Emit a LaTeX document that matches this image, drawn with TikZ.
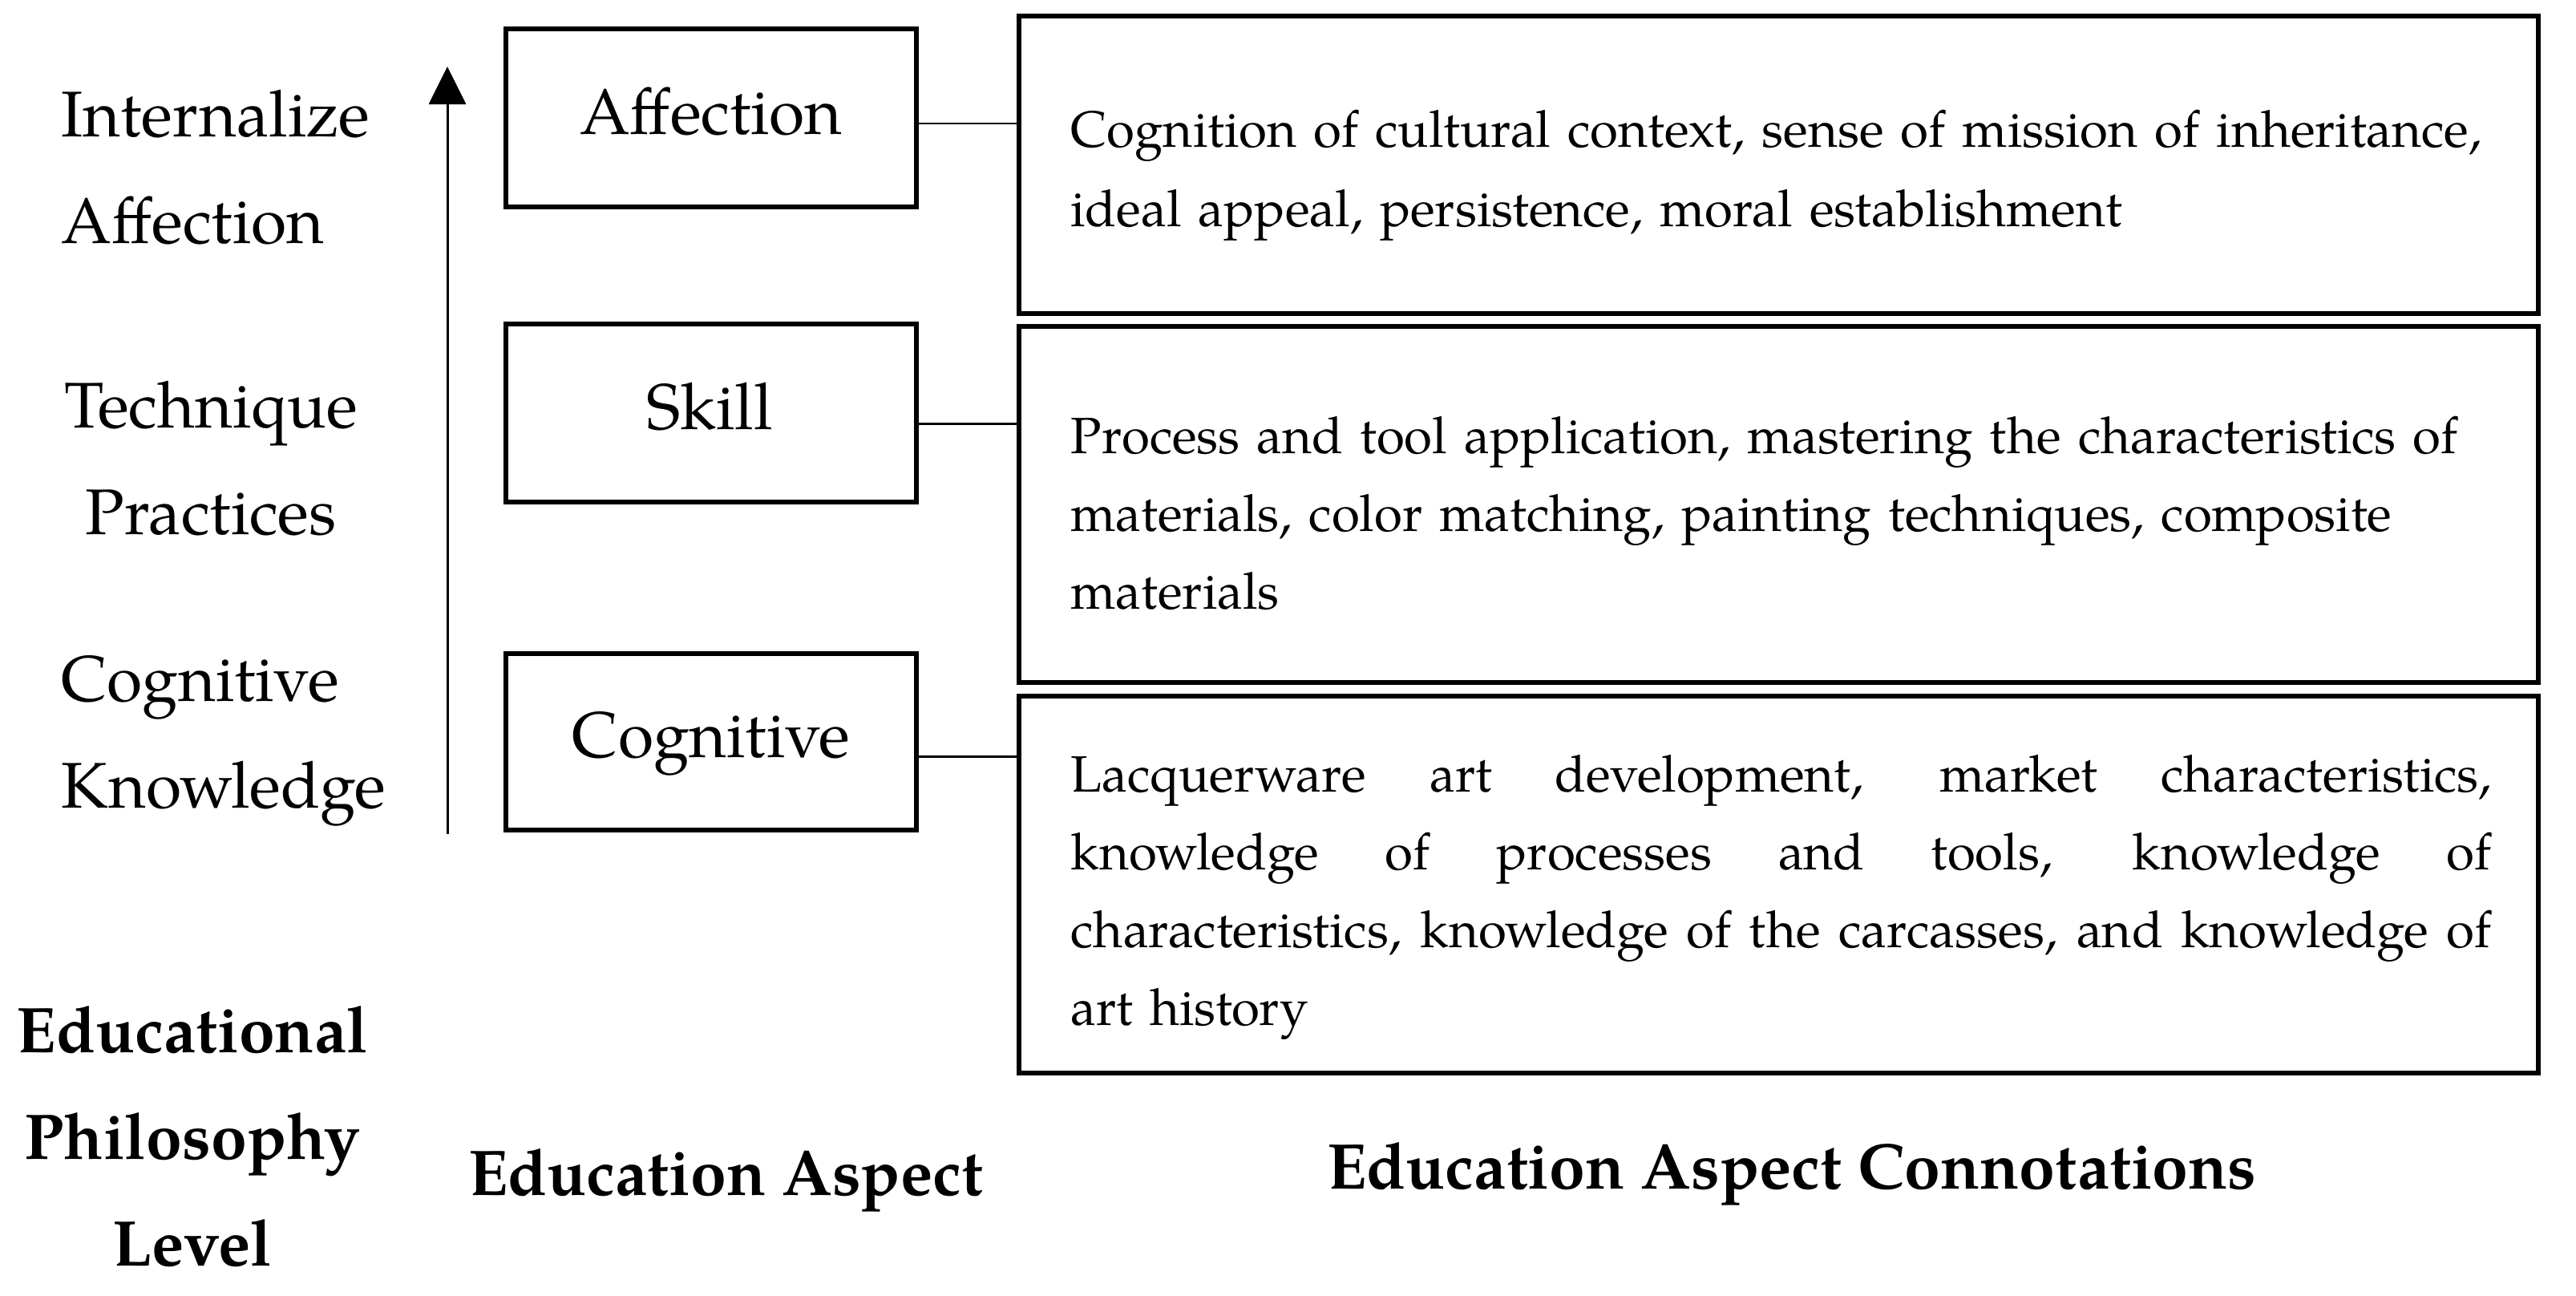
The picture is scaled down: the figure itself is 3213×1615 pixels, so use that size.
\documentclass[tikz,border=0pt]{standalone}
\usepackage{fontspec}
\setmainfont{TeX Gyre Pagella}
\usetikzlibrary{arrows.meta}
\newcommand{\jline}[1]{\leavevmode\hbox to 17.71cm{\spaceskip=.25em plus 1fil\relax #1}}
\begin{document}
\begin{tikzpicture}[x=0.01cm,y=-0.01cm]
\tikzset{
  lbox/.style={draw, line width=1.7pt, inner sep=0pt, minimum width=5.12cm, minimum height=2.22cm},
  rbox/.style={draw, line width=1.7pt, inner sep=0pt, minimum width=18.93cm},
  lab/.style={inner sep=0pt, font=\fontsize{22.9}{37.8}\selectfont},
  blab/.style={inner sep=0pt, font=\fontsize{22.9}{37.8}\selectfont\bfseries},
  body/.style={inner sep=0pt, anchor=base west, text width=17.71cm, align=left, font=\fontsize{18.1}{27.6}\selectfont},
  conn/.style={line width=0.85pt},
}
\useasboundingbox (0,0) rectangle (3213,1615);

% boxes
\node[lbox] (aff) at (887,147) {};
\node[lbox] (skl) at (887,515) {};
\node[lbox, minimum height=2.20cm] (cog) at (887,925) {};
\node[rbox, minimum height=3.71cm] (r1) at (2218.5,205.5) {};
\node[rbox, minimum height=4.44cm] (r2) at (2218.5,629) {};
\node[rbox, minimum height=4.70cm] (r3) at (2218.5,1103) {};

% box labels
\node[lab, anchor=base] (taff) at (887,167) {Affection};
\node[lab, anchor=base] (tskl) at (885,535) {Skill};
\node[lab, anchor=base] (tcog) at (887,944) {Cognitive};

% left labels (anchor = baseline of last line)
\node[lab, anchor=base west, align=left] (l1) at (76,303) {Internalize\\Affection};
\node[lab, anchor=base, align=center] (l2) at (263,666) {Technique\\Practices};
\node[lab, anchor=base west, align=left] (l3) at (76,1007) {Cognitive\\Knowledge};

% bottom headings
\node[blab, anchor=base, align=center] (b1) at (240,1578) {Educational\\Philosophy\\Level};
\node[blab, anchor=base] (b2) at (905,1490) {Education Aspect};
\node[blab, anchor=base] (b3) at (2235,1482) {Education Aspect Connotations};

% connotation texts
\node[body, font=\fontsize{18.1}{28.4}\selectfont] (t1) at (1335,183)
  {Cognition of cultural context, sense of mission of inheritance,\\ideal appeal, persistence, moral establishment};
\node[body] (t2) at (1335,565)
  {Process and tool application, mastering the characteristics of\\materials, color matching, painting techniques, composite\\materials};
\node[body] (t3) at (1335,987)
  {\jline{Lacquerware art development, market characteristics,}\\
   \jline{knowledge of processes and tools, knowledge of}\\
   \jline{characteristics, knowledge of the carcasses, and knowledge of}\\
   art history};

% connectors
\draw[conn] (aff.east |- 0,154) -- (r1.west |- 0,154);
\draw[conn] (skl.east |- 0,528) -- (r2.west |- 0,528);
\draw[conn] (cog.east |- 0,943) -- (r3.west |- 0,943);

% arrow
\coordinate (abot) at (558,1040);
\coordinate (atop) at (558,83);
\draw[conn, -{Triangle[length=4.7mm,width=4.6mm]}] (abot) -- (atop);
\end{tikzpicture}
\end{document}
